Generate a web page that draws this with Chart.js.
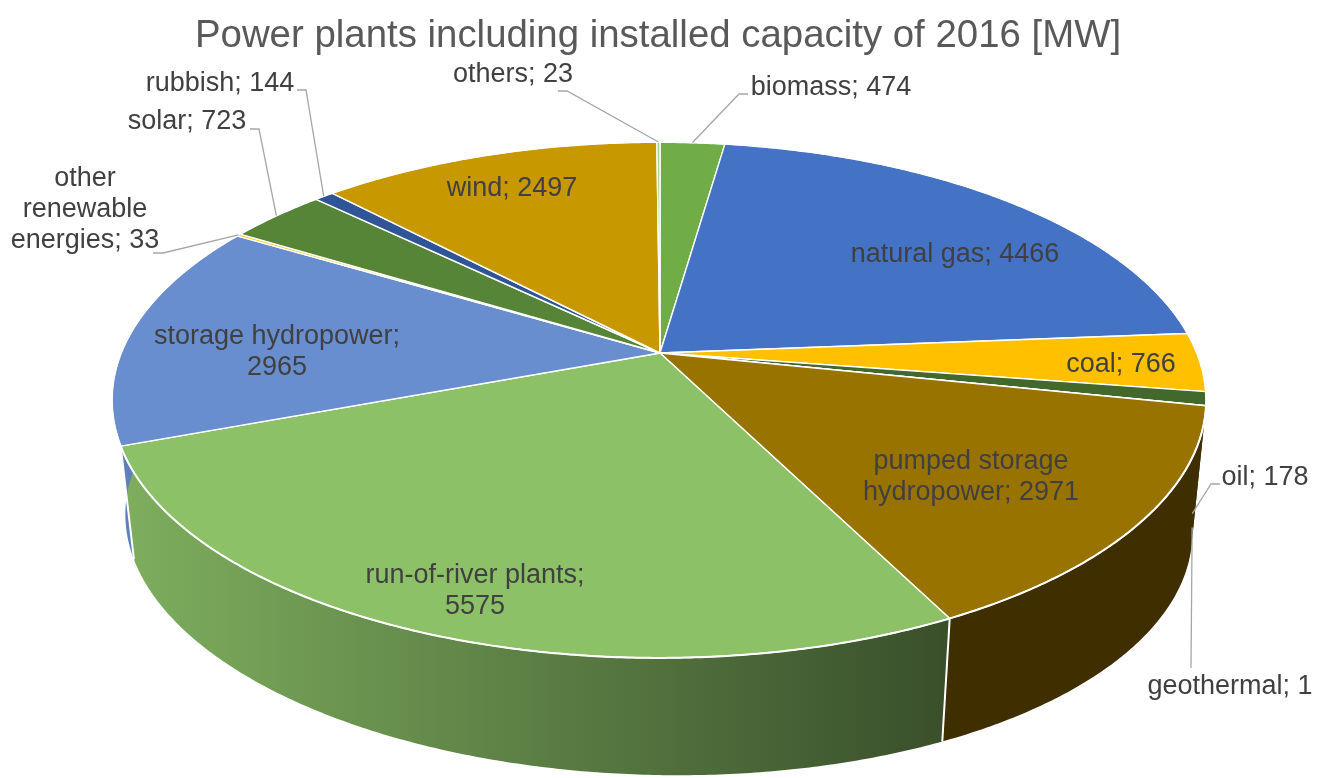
<!DOCTYPE html>
<html>
<head>
<meta charset="utf-8">
<title>Power plants</title>
<script src="https://cdn.jsdelivr.net/npm/chart.js@4"></script>
<style>
    html, body { margin: 0; padding: 0; background: #fff; overflow: hidden; }
    canvas { display: block; }
</style>
</head>
<body>
<canvas id="powerChart" width="1327" height="778"></canvas>
<script>
// slices run clockwise from 12 o'clock
const categories = ['biomass', 'natural gas', 'coal', 'oil', 'geothermal', 'pumped storage hydropower',
    'run-of-river plants', 'storage hydropower', 'other renewable energies', 'solar', 'rubbish', 'wind', 'others'];
const capacity = [474, 4466, 766, 178, 1, 2971, 5575, 2965, 33, 723, 144, 2497, 23];
const sliceColors = ['#70AD47', '#4472C4', '#FFC000', '#43682B', '#264478', '#997300',
    '#8CC168', '#698ED0', '#FFCD33', '#578537', '#2F5597', '#C89800', '#A9D18E'];

// how each data label is wrapped and where it sits: [lines, center x, first line y]
const labelLines = [
    ['biomass; 474'], ['natural gas; 4466'], ['coal; 766'], ['oil; 178'], ['geothermal; 1'],
    ['pumped storage', 'hydropower; 2971'], ['run-of-river plants;', '5575'], ['storage hydropower;', '2965'],
    ['other', 'renewable', 'energies; 33'], ['solar; 723'], ['rubbish; 144'], ['wind; 2497'], ['others; 23']
];
const labelX = [831, 955, 1121, 1265, 1230, 971, 475, 277, 85, 187, 220, 512, 513];
const labelY = [88, 255, 365, 478, 687, 462, 576, 337, 179, 122, 84, 189, 75];

// leader lines: slice index, elbow points from the label side, lower rim or not, lift off the rim
const leaders = [
    { slice: 0, pts: [[748, 94], [739, 94]], lower: false, lift: 0 },
    { slice: 3, pts: [[1220, 484], [1211, 484]], lower: true, lift: 18 },
    { slice: 4, pts: [[1191, 668]], lower: true, lift: 11 },
    { slice: 8, pts: [[153, 253], [163, 253]], lower: false, lift: 0 },
    { slice: 9, pts: [[250, 129], [259, 129]], lower: false, lift: 0 },
    { slice: 10, pts: [[297, 90], [306, 90]], lower: false, lift: 0 },
    { slice: 12, pts: [[558, 91], [567, 91]], lower: false, lift: 0 }
];

// perspective of the tilted disc
const pieX = 660, pieY = 353, radiusX = 538, radiusY = 249.4, tilt = -0.182, yaw = 0.0018;
// lower rim is the top rim shrunk towards the vertical vanishing point, with a small roll
const vanishX = 652, vanishY = 5300, depthScale = 0.975, roll = 0.0173;

function rimPoint(angle, lower) {
    const u = Math.cos(angle), v = Math.sin(angle);
    const w = 1 + tilt * v + yaw * u;
    let x = pieX + radiusX * u / w;
    let y = pieY + radiusY * v / w;
    if (lower) {
        x = vanishX + (x - vanishX) * depthScale;
        y = vanishY + (y - vanishY) * depthScale + roll * (x - vanishX) + 1;
    }
    return [x, y];
}

function shade(hex, f) {
    const n = parseInt(hex.slice(1), 16);
    return `rgb(${Math.round((n >> 16) * f)},${Math.round(((n >> 8) & 255) * f)},${Math.round((n & 255) * f)})`;
}

function arcPoints(arc, lower) {
    const steps = Math.max(1, Math.ceil((arc.endAngle - arc.startAngle) / 0.008));
    const pts = [];
    for (let i = 0; i <= steps; i++) {
        pts.push(rimPoint(arc.startAngle + (arc.endAngle - arc.startAngle) * i / steps, lower));
    }
    return pts;
}

function tracePath(ctx, pts, open) {
    ctx.beginPath();
    pts.forEach((p, i) => i === 0 ? ctx.moveTo(p[0], p[1]) : ctx.lineTo(p[0], p[1]));
    if (!open) ctx.closePath();
}

// takes the angles Chart.js worked out and draws them as a 3d disc
const pie3d = {
    id: 'pie3d',
    beforeDatasetsDraw(chart) {
        const ctx = chart.ctx;
        const arcs = chart.getDatasetMeta(0).data;
        ctx.save();

        // outer wall first, the top covers the back part of it
        arcs.forEach((arc, i) => {
            const wall = arcPoints(arc, false).concat(arcPoints(arc, true).reverse());
            const grad = ctx.createLinearGradient(120, 0, 950, 0);
            grad.addColorStop(0, shade(sliceColors[i], 0.9));
            grad.addColorStop(1, shade(sliceColors[i], 0.41));
            tracePath(ctx, wall);
            ctx.fillStyle = grad;
            ctx.fill();
        });

        // white edges between the walls at the front
        ctx.strokeStyle = '#fff';
        ctx.lineWidth = 2;
        arcs.forEach(arc => {
            if (Math.sin(arc.startAngle) > 0.3) {
                tracePath(ctx, [rimPoint(arc.startAngle, false), rimPoint(arc.startAngle, true)], true);
                ctx.stroke();
            }
        });

        // top face, thin edges so the tiny slices still show
        ctx.lineJoin = 'round';
        ctx.lineWidth = 1.4;
        arcs.forEach((arc, i) => {
            tracePath(ctx, [[pieX, pieY]].concat(arcPoints(arc, false)));
            ctx.fillStyle = sliceColors[i];
            ctx.fill();
            ctx.stroke();
        });

        // heavier line round the rim
        ctx.lineWidth = 2;
        arcs.forEach(arc => {
            tracePath(ctx, arcPoints(arc, false), true);
            ctx.stroke();
        });

        ctx.restore();
        return false; // the flat arcs are not wanted
    },
    afterDraw(chart) {
        const ctx = chart.ctx;
        const arcs = chart.getDatasetMeta(0).data;
        ctx.save();

        ctx.strokeStyle = '#A6A6A6';
        ctx.lineWidth = 1.3;
        leaders.forEach(l => {
            const arc = arcs[l.slice];
            const end = rimPoint((arc.startAngle + arc.endAngle) / 2, l.lower);
            end[1] -= l.lift;
            tracePath(ctx, l.pts.concat([end]), true);
            ctx.stroke();
        });

        ctx.font = '27px "Liberation Sans"';
        ctx.fillStyle = '#404040';
        ctx.textAlign = 'center';
        ctx.textBaseline = 'middle';
        labelLines.forEach((lines, i) => {
            lines.forEach((line, j) => ctx.fillText(line, labelX[i], labelY[i] + j * 31));
        });
        ctx.restore();
    }
};

new Chart(document.getElementById('powerChart').getContext('2d'), {
    type: 'pie',
    data: {
        labels: categories,
        datasets: [{ data: capacity, backgroundColor: sliceColors }]
    },
    options: {
        responsive: false,
        animation: false,
        layout: { padding: { top: 0, right: 11 } },
        plugins: {
            legend: { display: false },
            tooltip: { enabled: false },
            title: {
                display: true,
                text: 'Power plants including installed capacity of 2016 [MW]',
                color: '#595959',
                font: { family: '"Liberation Sans"', size: 38.4, weight: 'normal' },
                padding: { top: 13, bottom: 10 }
            }
        }
    },
    plugins: [pie3d]
});
</script>
</body>
</html>
